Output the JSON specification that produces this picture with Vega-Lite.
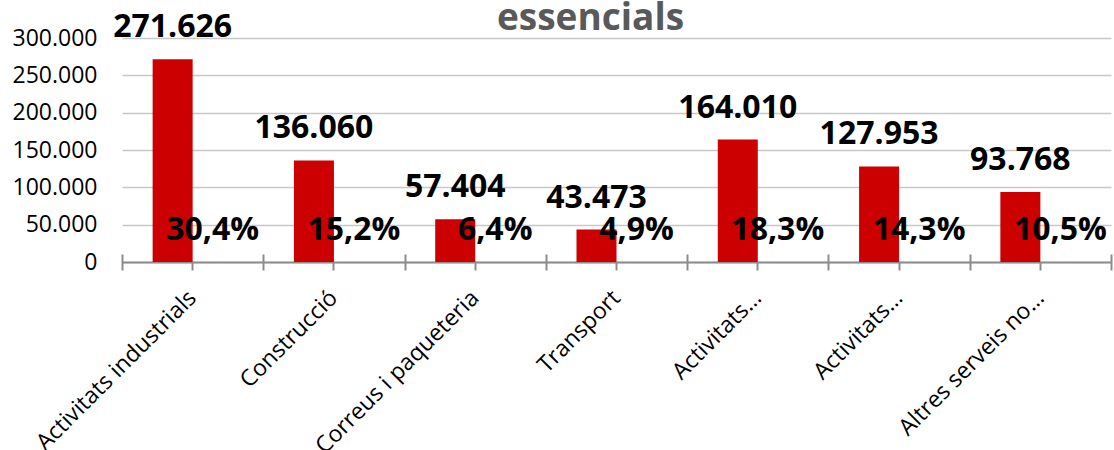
{
  "$schema": "https://vega.github.io/schema/vega-lite/v6.json",
  "width": 989,
  "height": 224,
  "autosize": {"type": "none"},
  "padding": {"left": 122, "top": 38, "right": 3, "bottom": 188},
  "background": "white",
  "title": {
    "text": "essencials",
    "font": "Open Sans",
    "fontSize": 37,
    "fontWeight": "bold",
    "color": "#595959",
    "anchor": "middle",
    "frame": "group",
    "baseline": "alphabetic",
    "dx": -26,
    "dy": 60
  },
  "data": {
    "values": [
      {"cat": "Activitats industrials", "value": 271626, "pct": 0.304},
      {"cat": "Construcció", "value": 136060, "pct": 0.152},
      {"cat": "Correus i paqueteria", "value": 57404, "pct": 0.064},
      {"cat": "Transport", "value": 43473, "pct": 0.049},
      {"cat": "Activitats… ", "value": 164010, "pct": 0.183},
      {"cat": "Activitats…", "value": 127953, "pct": 0.143},
      {"cat": "Altres serveis no…", "value": 93768, "pct": 0.105}
    ]
  },
  "resolve": {"axis": {"x": "independent"}},
  "layer": [
    {
      "mark": {"type": "bar", "color": "#CC0000", "width": 40, "xOffset": -20},
      "encoding": {
        "x": {
          "field": "cat", "type": "nominal", "sort": null,
          "scale": {"paddingInner": 0, "paddingOuter": 0},
          "axis": {
            "title": null, "orient": "bottom", "domain": true, "domainColor": "#8c8c8c", "domainWidth": 2,
            "ticks": true, "tickSize": 8, "tickColor": "#8c8c8c", "tickWidth": 2, "grid": false, "labelAngle": -45, "labelAlign": "right", "labelBaseline": "middle",
            "labelFont": "Open Sans", "labelFontSize": 23, "labelColor": "#000000", "labelPadding": 24, "labelLimit": 400
          }
        },
        "y": {"field": "value", "type": "quantitative", "title": null, "scale": {"domain": [0, 300000]}}
      }
    },
    {
      "mark": {"type": "text", "font": "Open Sans", "fontSize": 32, "fontWeight": "bold", "color": "#000000", "baseline": "alphabetic", "align": "center", "dy": -22, "xOffset": -20},
      "encoding": {
        "x": {
          "field": "cat", "type": "nominal", "sort": null,
          "scale": {"paddingInner": 0, "paddingOuter": 0},
          "axis": {"title": null, "orient": "bottom", "labels": false, "domain": false, "grid": false, "ticks": true, "tickBand": "extent", "tickSize": 16, "offset": -8, "tickColor": "#8c8c8c", "tickWidth": 2}
        },
        "y": {"field": "value", "type": "quantitative", "title": null},
        "text": {"field": "value", "type": "quantitative", "format": ",d"}
      }
    },
    {
      "mark": {"type": "text", "font": "Open Sans", "fontSize": 32, "fontWeight": "bold", "color": "#000000", "baseline": "alphabetic", "align": "center", "dy": -22, "xOffset": 20},
      "encoding": {
        "x": {
          "field": "cat", "type": "nominal", "sort": null,
          "scale": {"paddingInner": 0, "paddingOuter": 0},
          "axis": null
        },
        "y": {"datum": 0, "type": "quantitative", "title": null},
        "text": {"field": "pct", "type": "quantitative", "format": ".1%"}
      }
    }
  ],
  "config": {
    "locale": {"number": {"decimal": ",", "thousands": ".", "grouping": [3], "currency": ["", " €"]}},
    "view": {"stroke": null},
    "axisY": {
      "grid": true, "gridColor": "#c8c8c8", "gridWidth": 1.5, "domain": false, "ticks": false,
      "tickCount": 6, "labelFont": "Open Sans", "labelFontSize": 23, "labelColor": "#000000", "labelPadding": 25, "format": ",d"
    }
  }
}
